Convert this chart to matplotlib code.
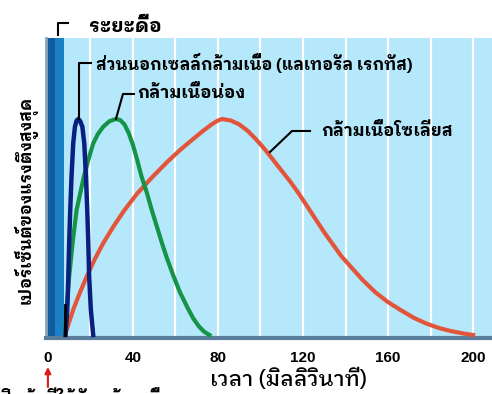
import matplotlib
matplotlib.use("Agg")
import matplotlib.pyplot as plt

plt.rcParams['font.family'] = ['IBM Plex Sans Thai Looped', 'DejaVu Sans']

# data (time in ms, % of max tension)
blue_t = [8.3, 9.1, 9.6, 10.0, 10.5, 11.1, 11.9, 12.7, 13.5, 14.3, 15.2, 16.2, 17.1, 17.9, 18.5, 19.0, 19.4, 20.2, 21.3]
blue_v = [0, 11.6, 27, 42.5, 57.9, 73.3, 88.7, 96.4, 99.3, 100, 99, 96.4, 88.7, 73.3, 57.9, 42.5, 27, 11.6, 0]

green_t = [8.0, 8.8, 10.0, 11.6, 13.5, 16.9, 19.0, 21.3, 23.5, 26.0, 29.0, 32.0, 34.0, 36.0, 38.0, 40.0, 42.0,
           44.0, 46.5, 48.8, 51.0, 53.5, 56.0, 59.0, 62.0, 66.0, 68.5, 71.0, 73.5, 76.0]
green_v = [0, 11.6, 27, 42.5, 57.9, 73.3, 81, 88.7, 93, 96.4, 99, 100, 99.5, 97.5, 93.5, 88, 81,
           73.5, 66, 58, 51, 43, 35.5, 27.5, 20, 12, 7.5, 4, 1.5, 0]

red_t = [8, 10, 12, 15, 18, 22, 26, 31, 36, 42, 49, 56, 62, 68, 73, 77, 80, 82, 86, 90, 94, 98, 102,
         106, 110, 114, 118, 122, 126, 130, 134, 138, 143, 148, 154, 160, 166, 172, 178, 184, 190, 196, 200]
red_v = [0, 6, 12, 19.5, 26.5, 35, 42.5, 50.5, 57.8, 65.5, 73, 80, 85.5, 90.5, 94.5, 97.5, 99.3, 100, 99.3, 97.5, 94.5, 90.5, 86,
         81, 76, 71, 65.5, 59.5, 53.5, 47.5, 42, 36.5, 31, 25.5, 19.8, 15.2, 11.5, 8, 5.3, 3.2, 1.7, 0.6, 0]

xticks = [0, 40, 80, 120, 160, 200]
grid_x = list(range(20, 220, 20))

fig = plt.figure(figsize=(4.92, 3.94), dpi=100)
ax = fig.add_axes([46 / 492, 56 / 394, 446 / 492, 300 / 394])
ax.set_facecolor('#b4e8fa')
ax.set_xlim(-0.9, 208.9)
ax.set_ylim(-1.4, 137.5)

# latent period band
ax.axvspan(-0.9, 3.5, color='#0f5c9e', lw=0)
ax.axvspan(3.5, 7.6, color='#1b80c6', lw=0)
for gx in grid_x:
    ax.axvline(gx, color='white', lw=1.6, zorder=1)

ax.plot(red_t, red_v, color='#e2553a', lw=3, zorder=3, solid_joinstyle='round')
ax.plot(green_t, green_v, color='#159447', lw=3, zorder=4, solid_joinstyle='round')
ax.plot(blue_t, blue_v, color='#0b1f80', lw=3.2, zorder=5, solid_joinstyle='round')
ax.plot([7.9, 7.9], [0, 14], color='black', lw=2, zorder=6)

for s in ['top', 'right']:
    ax.spines[s].set_visible(False)
ax.spines['bottom'].set_color('#5b7d9c')
ax.spines['bottom'].set_linewidth(3)
ax.spines['left'].set_color('#8aa6bd')
ax.spines['left'].set_linewidth(2)

ax.set_yticks([])
ax.set_xticks(xticks)
ax.tick_params(axis='x', length=0, pad=9)
for lab in ax.get_xticklabels():
    lab.set_fontfamily('Liberation Sans')
    lab.set_fontweight('bold')
    lab.set_fontsize(11)

fig.text(289 / 492, 1 - 380 / 394, 'เวลา (มิลลิวินาที)', ha='center', va='center',
         fontsize=15.5, fontweight='medium')
fig.text(26 / 492, 1 - 200 / 394, 'เปอร์เซ็นต์ของแรงตึงสูงสุด', rotation=90,
         ha='center', va='center', fontsize=12, fontweight='bold')

def px(x, y):
    return (x - 48) / 2.125, (335 - y) / 2.16

def connector(points):
    xs, ys = zip(*[px(*p) for p in points])
    ax.plot(xs, ys, color='black', lw=1.5, clip_on=False, zorder=7)

# labels with leader lines
connector([(58, 35), (58, 23), (68, 23)])
ax.text(*px(89, 27), 'ระยะดื้อ', fontsize=14, fontweight='bold', va='center', clip_on=False)

connector([(79, 119), (79, 63), (91, 63)])
ax.text(*px(96, 63), 'ส่วนนอกเซลล์กล้ามเนื้อ (แลเทอรัล เรกทัส)', fontsize=12,
        fontweight='bold', va='center')

connector([(116, 119), (123, 94), (134, 94)])
ax.text(*px(137, 93), 'กล้ามเนื้อน่อง', fontsize=12.5, fontweight='bold', va='center')

connector([(270, 152), (292, 131), (310, 131)])
ax.text(*px(321, 131), 'กล้ามเนื้อโซเลียส', fontsize=12.3, fontweight='bold', va='center')

# stimulus arrow and caption that runs off the bottom edge, as in the source
ax.annotate('', xy=px(48, 367), xytext=px(48, 387),
            arrowprops=dict(arrowstyle='-|>', color='#e01818', lw=1.5, mutation_scale=9,
                            shrinkA=0, shrinkB=0),
            annotation_clip=False)
fig.text(0.0, -10 / 394, 'สิ่งเร้าที่ให้กับกล้ามเนื้อ', fontsize=12, fontweight='bold', va='baseline')

fig.savefig('out.png')
